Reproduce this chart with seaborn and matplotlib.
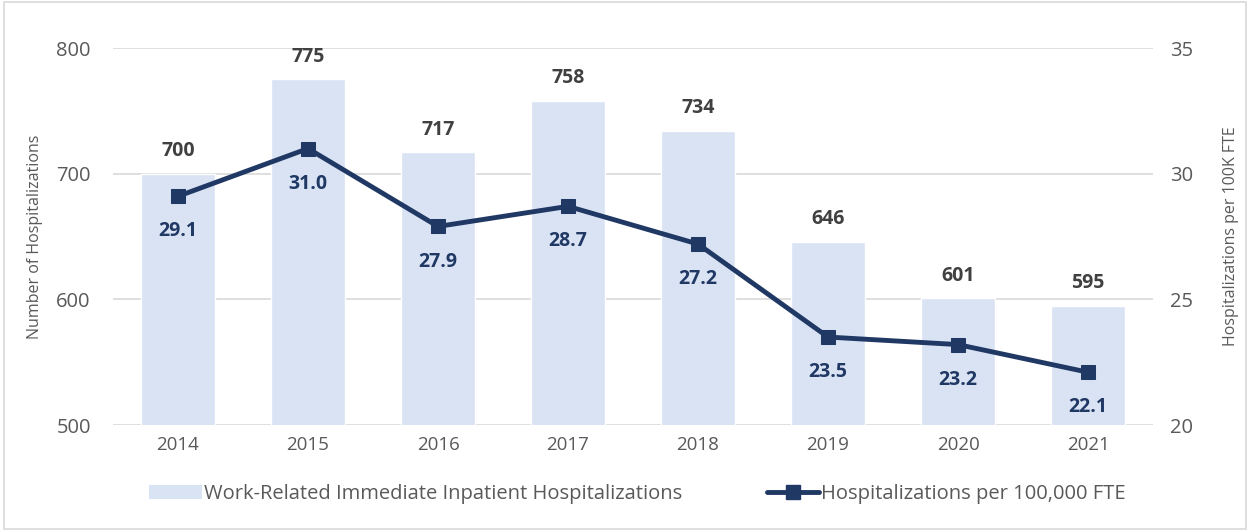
import matplotlib
matplotlib.use("Agg")
import matplotlib.pyplot as plt
import matplotlib.patches as patches
from matplotlib.lines import Line2D
import seaborn as sns
import pandas as pd

years = ["2014", "2015", "2016", "2017", "2018", "2019", "2020", "2021"]
hospitalizations = [700, 775, 717, 758, 734, 646, 601, 595]
rate_per_100k = [29.1, 31.0, 27.9, 28.7, 27.2, 23.5, 23.2, 22.1]

bar_label = "Work-Related Immediate Inpatient Hospitalizations"
line_label = "Hospitalizations per 100,000 FTE"

bar_color = "#DAE3F3"
line_color = "#203864"
text_color = "#595959"

df = pd.DataFrame({"year": years, "count": hospitalizations, "rate": rate_per_100k})

sns.set_style("white")
plt.rcParams["font.family"] = ["Open Sans", "DejaVu Sans"]

fig = plt.figure(figsize=(12.5, 5.31), dpi=100)
ax = fig.add_axes([0.0904, 0.1996, 0.8320, 0.7100])
ax2 = ax.twinx()

sns.barplot(data=df, x="year", y="count", color=bar_color, width=0.57,
            saturation=1, ax=ax, zorder=2)
ax.set_ylim(500, 800)
ax.set_yticks([500, 600, 700, 800])
ax.set_xlim(-0.5, 7.5)
ax.grid(True, axis="y", color="#D9D9D9", linewidth=1.2, zorder=0)
ax.set_axisbelow(True)
for s in ax.spines.values():
    s.set_visible(False)
ax.set_xlabel("")
ax.set_ylabel("Number of Hospitalizations", fontsize=11.5, color=text_color)
ax.yaxis.set_label_coords(-0.067, 0.5)
ax.tick_params(axis="y", labelsize=14.5, colors=text_color, length=0, pad=16)
ax.tick_params(axis="x", labelsize=13.5, colors=text_color, length=0, pad=8)

for i, v in enumerate(hospitalizations):
    ax.text(i, v + 10, f"{v}", ha="center", va="bottom", fontsize=14,
            fontweight="bold", color="#404040")

sns.lineplot(x=list(range(len(years))), y=rate_per_100k, ax=ax2, color=line_color,
             linewidth=3.5, marker="s", markersize=10, markeredgecolor=line_color,
             zorder=3)
ax2.set_ylim(20, 35)
ax2.set_yticks([20, 25, 30, 35])
ax2.set_xlim(-0.5, 7.5)
for s in ax2.spines.values():
    s.set_visible(False)
ax2.set_ylabel("Hospitalizations per 100K FTE", fontsize=11.5, color=text_color)
ax2.yaxis.set_label_coords(1.067, 0.5)
ax2.tick_params(axis="y", labelsize=14.5, colors=text_color, length=0, pad=12)

for i, v in enumerate(rate_per_100k):
    ax2.text(i, v - 1.0, f"{v:.1f}", ha="center", va="top", fontsize=14,
             fontweight="bold", color=line_color)

handles = [
    patches.Patch(facecolor=bar_color, edgecolor="none", label=bar_label),
    Line2D([0], [0], color=line_color, linewidth=3.5, marker="s", markersize=10,
           label=line_label),
]
leg = fig.legend(handles=handles, loc="center", bbox_to_anchor=(0.51, 0.07), ncol=2,
                 frameon=False, fontsize=14.5, columnspacing=4.2, handlelength=2.6,
                 handletextpad=0.1)
for t in leg.get_texts():
    t.set_color(text_color)

fig.patches.append(patches.Rectangle((0.003, 0.004), 0.994, 0.992, transform=fig.transFigure,
                                     fill=False, edgecolor="#D9D9D9", linewidth=1.2))

fig.savefig("out.png", dpi=100)
